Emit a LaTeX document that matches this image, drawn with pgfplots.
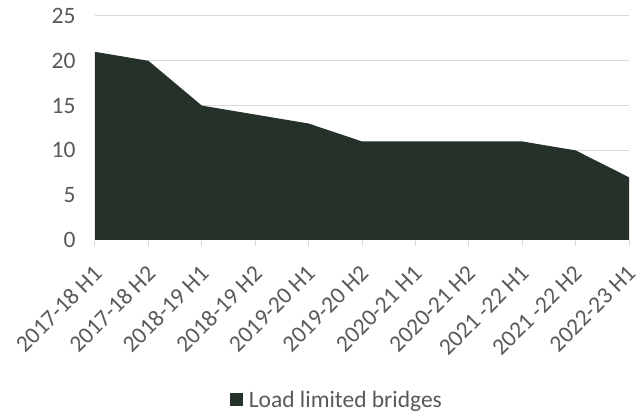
\documentclass[border=0pt]{standalone}
\usepackage{fontspec}
\setmainfont{Carlito}
\usepackage{pgfplots}
\pgfplotsset{compat=1.18}
\definecolor{areacol}{HTML}{263129}
\definecolor{txtgray}{HTML}{595959}
\definecolor{gridgray}{HTML}{D9D9D9}
\begin{document}
\begin{tikzpicture}
\begin{axis}[
    scale only axis,
    width=534pt, height=224pt,
    xmin=0, xmax=10, ymin=0, ymax=25,
    enlargelimits=false,
    xtick={0,...,10},
    xticklabels={2017-18 H1,2017-18 H2,2018-19 H1,2018-19 H2,2019-20 H1,2019-20 H2,2020-21 H1,2020-21 H2,2021 -22 H1,2021 -22 H2,2022-23 H1},
    ytick={0,5,...,25},
    /pgf/number format/assume math mode=true,
    tick label style={font=\fontsize{23.5}{28}\selectfont, text=txtgray},
    xticklabel style={yshift=-15pt, xshift=-3pt, rotate=45, anchor=north east, inner sep=2pt},
    yticklabel style={xshift=-10pt},
    axis x line*=bottom,
    axis y line*=left,
    x axis line style={draw=gridgray, line width=1pt, -},
    y axis line style={draw=none},
    major y tick style={draw=none},
    major x tick style={draw=gridgray, line width=1pt},
    tick align=outside,
    major tick length=6pt,
    ymajorgrids,
    grid style={draw=gridgray, line width=1pt},
    legend style={at={(0.453,-0.714)}, anchor=center, draw=none,
        font=\fontsize{23.5}{28}\selectfont, text=txtgray},
    legend image code/.code={\fill[areacol] (0pt,-6pt) rectangle (13pt,7pt); \path (17pt,0pt);},
]
\addplot[fill=areacol, draw=none, mark=none] coordinates {
(0,21) (1,20) (2,15) (3,14) (4,13) (5,11) (6,11) (7,11) (8,11) (9,10) (10,7)
} \closedcycle;
\addlegendentry{Load limited bridges}
\end{axis}
\pgfresetboundingbox
\path ([xshift=-95pt,yshift=-174pt]current axis.south west) rectangle ([xshift=8pt,yshift=16pt]current axis.north east);
\end{tikzpicture}
\end{document}
